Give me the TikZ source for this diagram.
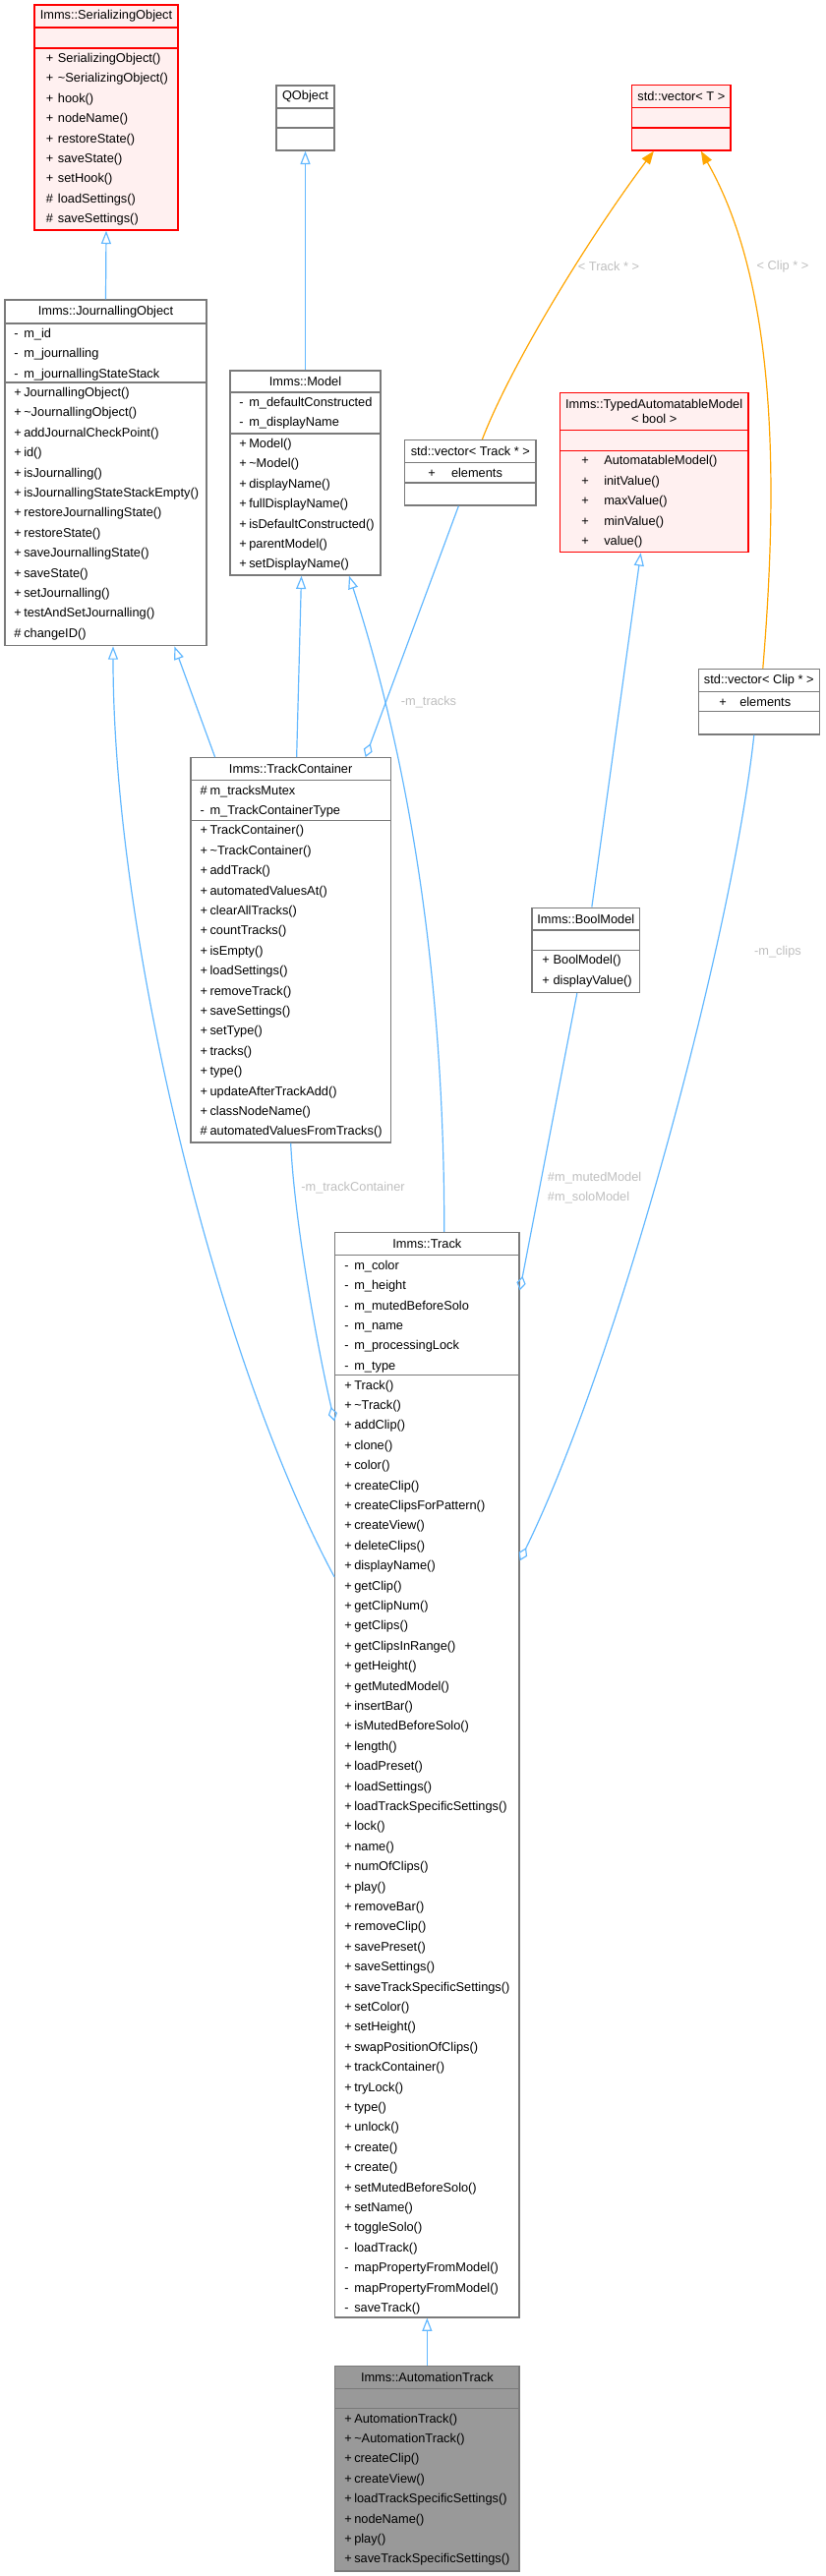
\documentclass[tikz,border=0pt]{standalone}
\usepackage{fontspec}
\setmainfont{Liberation Sans}
\usetikzlibrary{arrows.meta,positioning,calc,fit}
\definecolor{edgeblue}{HTML}{63B8FF}
\definecolor{edgeorange}{HTML}{FFA500}
\definecolor{boxgrey}{HTML}{7A7A7A}
\definecolor{labelgrey}{HTML}{BEBEBE}
\definecolor{undocfill}{HTML}{FFF0F0}
\definecolor{rootfill}{HTML}{999999}
\newcommand\classfont{\fontsize{9.6}{15.3}\selectfont}

\begin{document}
\begin{tikzpicture}[x=0.75pt,y=-0.75pt,
 cls/.style={draw=boxgrey,line width=1pt,fill=white,inner sep=0pt},
 undoc/.style={cls,draw=red,fill=undocfill},
 root/.style={cls,fill=rootfill},
 divider/.style={draw=boxgrey,line width=1pt},
 undocdivider/.style={draw=red,line width=1pt},
 title/.style={font=\classfont,inner sep=0pt},
 members/.style={font=\classfont,inner sep=0pt,anchor=north west},
 edgelabel/.style={font=\classfont,text=labelgrey,inner sep=0pt},
 inherit/.style={draw=edgeblue,line width=0.9pt,-{Triangle[open,length=10pt,width=7.5pt]}},
 templ/.style={draw=edgeorange,line width=0.9pt,-{Triangle[length=10pt,width=7.5pt]}},
 usage/.style={draw=edgeblue,line width=0.9pt,-{Diamond[open,length=11pt,width=7pt]}}]
\useasboundingbox (0,0) rectangle (839,2620);

\node[undoc,fit={(35,5) (181,234)}] (ser) {};
\node[title] (ser-t) at (108,16.5) {Imms::SerializingObject};
\draw[undocdivider] (35,28) -- (181,28) (35,49) -- (181,49);
\node[members] (ser-m) at (46.7,49) {\begin{tabular}{@{}p{9pt}@{}l@{}}
+&SerializingObject()\\+&\textasciitilde SerializingObject()\\+&hook()\\+&nodeName()\\+&restoreState()\\
+&saveState()\\+&setHook()\\\#&loadSettings()\\\#&saveSettings()\end{tabular}};

\node[cls,fit={(281,87) (340,153)}] (qobj) {};
\node[title] (qobj-t) at (310.5,98.5) {QObject};
\draw[divider] (281,110) -- (340,110) (281,130) -- (340,130);

\node[undoc,fit={(642.7,86.7) (743,153)}] (vt) {};
\node[title] (vt-t) at (692.85,98.2) {std::vector< T >};
\draw[undocdivider] (642.7,109.7) -- (743,109.7) (642.7,130) -- (743,130);

\node[cls,fit={(5,305) (210,656.7)}] (jo) {};
\node[title] (jo-t) at (107.5,317) {Imms::JournallingObject};
\draw[divider] (5,329) -- (210,329) (5,389) -- (210,389);
\node[members] (jo-a) at (14,329) {\begin{tabular}{@{}p{7.5pt}@{}l@{}}
-&m\_id\\-&m\_journalling\\-&m\_journallingStateStack\end{tabular}};
\node[members] (jo-m) at (14,389) {\begin{tabular}{@{}p{7.5pt}@{}l@{}}
+&JournallingObject()\\+&\textasciitilde JournallingObject()\\+&addJournalCheckPoint()\\+&id()\\
+&isJournalling()\\+&isJournallingStateStackEmpty()\\+&restoreJournallingState()\\+&restoreState()\\
+&saveJournallingState()\\+&saveState()\\+&setJournalling()\\+&testAndSetJournalling()\\\#&changeID()\end{tabular}};

\node[cls,fit={(234,377) (387,585)}] (model) {};
\node[title] (model-t) at (310.5,388) {Imms::Model};
\draw[divider] (234,399) -- (387,399) (234,441) -- (387,441);
\node[members] (model-a) at (243,399) {\begin{tabular}{@{}p{7.5pt}@{}l@{}}
-&m\_defaultConstructed\\-&m\_displayName\end{tabular}};
\node[members] (model-m) at (243,441) {\begin{tabular}{@{}p{7.5pt}@{}l@{}}
+&Model()\\+&\textasciitilde Model()\\+&displayName()\\+&fullDisplayName()\\+&isDefaultConstructed()\\
+&parentModel()\\+&setDisplayName()\end{tabular}};

\node[cls,fit={(411.7,447.7) (545,514)}] (vtrack) {};
\node[title] (vtrack-t) at (478.35,459.2) {std::vector< Track * >};
\draw[divider] (411.7,470.7) -- (545,470.7) (411.7,491) -- (545,491);
\node[members] (vtrack-a) at (435,470.7) {\begin{tabular}{@{}p{17.8pt}@{}l@{}}+&elements\end{tabular}};

\node[undoc,fit={(569.3,399.6) (761,561.6)}] (tam) {};
\node[title,align=center,font=\fontsize{9.6}{11.5}\selectfont] (tam-t) at (665.15,418.6) {Imms::TypedAutomatableModel\\< bool >};
\draw[undocdivider] (569.3,437.6) -- (761,437.6) (569.3,458.4) -- (761,458.4);
\node[members] (tam-m) at (591,458.4) {\begin{tabular}{@{}p{17.25pt}@{}l@{}}
+&AutomatableModel()\\+&initValue()\\+&maxValue()\\+&minValue()\\+&value()\end{tabular}};

\node[cls,fit={(710.3,680.4) (833.3,747)}] (vclip) {};
\node[title] (vclip-t) at (771.8,692) {std::vector< Clip * >};
\draw[divider] (710.3,703.7) -- (833.3,703.7) (710.3,723.7) -- (833.3,723.7);
\node[members] (vclip-a) at (731,703.7) {\begin{tabular}{@{}p{15.75pt}@{}l@{}}+&elements\end{tabular}};

\node[cls,fit={(194,770.7) (397.3,1162)}] (tc) {};
\node[title] (tc-t) at (295.65,782.2) {Imms::TrackContainer};
\draw[divider] (194,793.7) -- (397.3,793.7) (194,834.3) -- (397.3,834.3);
\node[members] (tc-a) at (203.3,793.7) {\begin{tabular}{@{}p{7.5pt}@{}l@{}}
\#&m\_tracksMutex\\-&m\_TrackContainerType\end{tabular}};
\node[members] (tc-m) at (203.3,834.3) {\begin{tabular}{@{}p{7.5pt}@{}l@{}}
+&TrackContainer()\\+&\textasciitilde TrackContainer()\\+&addTrack()\\+&automatedValuesAt()\\
+&clearAllTracks()\\+&countTracks()\\+&isEmpty()\\+&loadSettings()\\+&removeTrack()\\
+&saveSettings()\\+&setType()\\+&tracks()\\+&type()\\+&updateAfterTrackAdd()\\
+&classNodeName()\\\#&automatedValuesFromTracks()\end{tabular}};

\node[cls,fit={(541,923.2) (650.7,1009.5)}] (bool) {};
\node[title] (bool-t) at (595.85,934.6) {Imms::BoolModel};
\draw[divider] (541,946) -- (650.7,946) (541,966.3) -- (650.7,966.3);
\node[members] (bool-m) at (551,966.3) {\begin{tabular}{@{}p{8.5pt}@{}l@{}}
+&BoolModel()\\+&displayValue()\end{tabular}};

\node[cls,fit={(340.7,1253.5) (528,2356.9)}] (track) {};
\node[title] (track-t) at (434.35,1265.1) {Imms::Track};
\draw[divider] (340.7,1276.7) -- (528,1276.7) (340.7,1398.6) -- (528,1398.6);
\node[members] (track-a) at (350,1276.7) {\begin{tabular}{@{}p{7.5pt}@{}l@{}}
-&m\_color\\-&m\_height\\-&m\_mutedBeforeSolo\\-&m\_name\\-&m\_processingLock\\-&m\_type\end{tabular}};
\node[members] (track-m) at (350,1398.6) {\begin{tabular}{@{}p{7.5pt}@{}l@{}}
+&Track()\\+&\textasciitilde Track()\\+&addClip()\\+&clone()\\+&color()\\+&createClip()\\
+&createClipsForPattern()\\+&createView()\\+&deleteClips()\\+&displayName()\\+&getClip()\\
+&getClipNum()\\+&getClips()\\+&getClipsInRange()\\+&getHeight()\\+&getMutedModel()\\
+&insertBar()\\+&isMutedBeforeSolo()\\+&length()\\+&loadPreset()\\+&loadSettings()\\
+&loadTrackSpecificSettings()\\+&lock()\\+&name()\\+&numOfClips()\\+&play()\\+&removeBar()\\
+&removeClip()\\+&savePreset()\\+&saveSettings()\\+&saveTrackSpecificSettings()\\+&setColor()\\
+&setHeight()\\+&swapPositionOfClips()\\+&trackContainer()\\+&tryLock()\\+&type()\\+&unlock()\\
+&create()\\+&create()\\+&setMutedBeforeSolo()\\+&setName()\\+&toggleSolo()\\-&loadTrack()\\
-&mapPropertyFromModel()\\-&mapPropertyFromModel()\\-&saveTrack()\end{tabular}};

\node[root,fit={(340.7,2406.4) (528,2614.9)}] (at) {};
\node[title] (at-t) at (434.35,2417.9) {Imms::AutomationTrack};
\draw[divider] (340.7,2429.4) -- (528,2429.4) (340.7,2449.6) -- (528,2449.6);
\node[members] (at-m) at (350,2449.6) {\begin{tabular}{@{}p{7.5pt}@{}l@{}}
+&AutomationTrack()\\+&\textasciitilde AutomationTrack()\\+&createClip()\\+&createView()\\
+&loadTrackSpecificSettings()\\+&nodeName()\\+&play()\\+&saveTrackSpecificSettings()\end{tabular}};

\draw[inherit] (jo.north) -- (ser.south);
\draw[inherit] (model.north) -- (qobj.south);
\draw[templ] ($(vtrack.north)+(12,0)$) .. controls (520,370) and (600,240) .. ($(vt.south)+(-28,0)$);
\draw[templ] ($(vclip.north)+(4,0)$) .. controls (795,450) and (782,275) .. ($(vt.south)+(20,0)$);
\draw[inherit] ($(tc.north)+(6,0)$) -- ($(model.south)+(-4,0)$);
\draw[inherit] ($(tc.north west)+(25.3,0)$) -- ($(jo.south east)+(-33.3,0)$);
\draw[inherit] ($(track.north)+(17.4,0)$) .. controls (452,1000) and (418,780) .. ($(model.south)+(44.5,0)$);
\draw[usage] ($(vtrack.south)+(-12,0)$) -- ($(tc.north)+(76,0)$);
\draw[usage] (tc.south) .. controls (300,1250) and (325,1380) .. ($(track.north west)+(0,192.5)$);
\draw[inherit] ($(track.north west)+(0,351)$) .. controls (220,1380) and (115,950) .. ($(jo.south)+(7.5,0)$);
\draw[inherit] ($(bool.north)+(6,0)$) -- ($(tam.south)+(-13.5,0)$);
\draw[usage] ($(bool.south)+(-9,0)$) -- ($(track.north east)+(0,59.5)$);
\draw[usage] ($(vclip.south)+(-5,0)$) .. controls (745,950) and (630,1380) .. ($(track.north east)+(0,334.5)$);
\draw[inherit] (at.north) -- (track.south);

\node[edgelabel] (lbl-track) at (619,271) {< Track * >};
\node[edgelabel] (lbl-clip) at (796,271) {< Clip * >};
\node[edgelabel] (lbl-tracks) at (436,714) {-m\_tracks};
\node[edgelabel] (lbl-tc) at (359,1208.5) {-m\_trackContainer};
\node[edgelabel,anchor=west,align=left] (lbl-muted) at (556.7,1208) {\#m\_mutedModel\\\#m\_soloModel};
\node[edgelabel] (lbl-clips) at (791,968) {-m\_clips};
\end{tikzpicture}
\end{document}
